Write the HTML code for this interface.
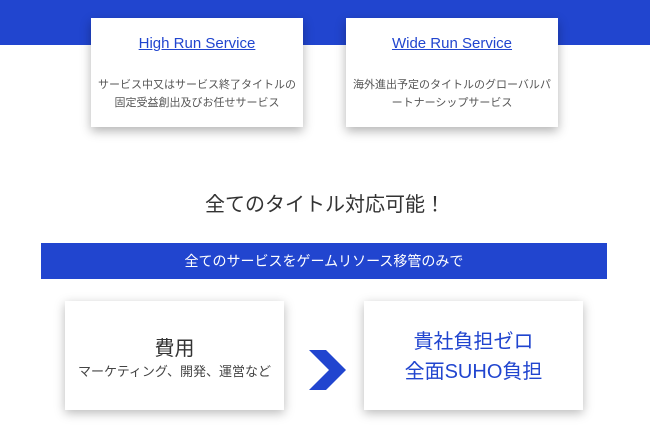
<!DOCTYPE html>
<html><head><meta charset="utf-8"><style>
body{margin:0;width:650px;height:437px;background:#fff;position:relative;overflow:hidden;font-family:"Liberation Sans","Noto Sans CJK JP",sans-serif}
.band{position:absolute;left:0;top:0;width:650px;height:45px;background:#2145cf}
.card{position:absolute;background:#fff;box-shadow:0 4px 10px rgba(0,0,0,.3);text-align:center}
.t{position:absolute;left:0;right:0;top:17px;font-size:15px;color:#2145cf;text-decoration:underline}
.d{position:absolute;left:0;right:0;top:58px;font-size:11px;line-height:18px;color:#555}
.box{position:absolute;background:#fff;box-shadow:0 3px 10px rgba(0,0,0,.28);text-align:center}
</style></head><body>
<div class="band"></div>
<div class="card" style="left:91px;top:18px;width:212px;height:109px"><div class="t">High Run Service</div><div class="d">サービス中又はサービス終了タイトルの<br>固定受益創出及びお任せサービス</div></div>
<div class="card" style="left:346px;top:18px;width:212px;height:109px"><div class="t">Wide Run Service</div><div class="d">海外進出予定のタイトルのグローバルパ<br>ートナーシップサービス</div></div>
<div style="position:absolute;left:0;width:650px;top:188px;text-align:center;font-size:20px;color:#333">全てのタイトル対応可能！</div>
<div style="position:absolute;left:41px;top:243px;width:566px;height:36px;background:#2145cf;color:#fff;font-size:14px;line-height:36px;text-align:center">全てのサービスをゲームリソース移管のみで</div>
<div class="box" style="left:65px;top:301px;width:219px;height:109px"><div style="margin-top:35px;font-size:20px;color:#333;line-height:26px">費用</div><div style="font-size:13px;color:#444;line-height:20px">マーケティング、開発、運営など</div></div>
<svg style="position:absolute;left:309px;top:350px" width="38" height="40"><polygon points="0,0 17,0 37,20 17,40 0,40 20,20" fill="#2145cf"/></svg>
<div class="box" style="left:364px;top:301px;width:219px;height:109px"><div style="margin-top:26px;font-size:20px;color:#2145cf;line-height:30px">貴社負担ゼロ<br>全面SUHO負担</div></div>
</body></html>
